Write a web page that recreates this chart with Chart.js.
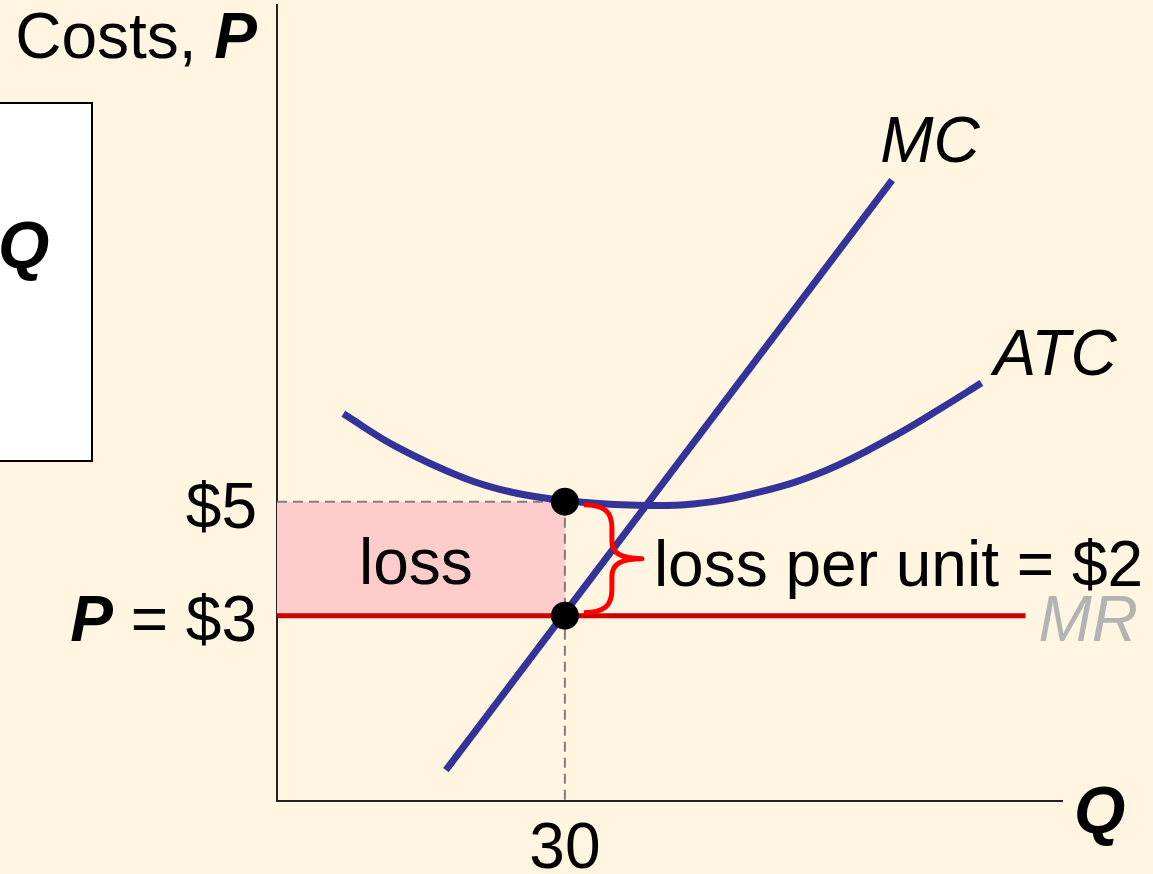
<!DOCTYPE html>
<html>
<head>
<meta charset="utf-8">
<script src="https://cdn.jsdelivr.net/npm/chart.js@4"></script>
<style>
  html, body { margin: 0; padding: 0; background: #FFF5E1; }
  canvas { display: block; }
</style>
</head>
<body>
<canvas id="lossChart" width="1153" height="874"></canvas>
<script>
// Axis ranges (quantity, price in $)
const qRange = [0, 81.8];
const pRange = [-0.25, 13.71];

// Average total cost curve
const atcQ = [6.91, 12.47, 19.41, 24.6, 30, 36.77, 43.37, 50.31, 57.26, 64.2, 69.4, 73.4];
const atcP = [6.54, 5.96, 5.42, 5.16, 5.02, 4.94, 4.96, 5.17, 5.55, 6.14, 6.66, 7.08];

// Marginal cost line
const mcQ = [17.6, 64.1];
const mcP = [0.29, 10.64];

// Marginal revenue (= price) line
const mrQ = [0, 78.0];
const mrP = [3, 3];

// Firm's chosen output, price and ATC at that output
const outputQ = 30;
const priceP = 3;
const atcAtOutput = 5;

// Tick labels
const qTickLabel = '30';
const atcTickLabel = '$5';
const priceTickLabel = '$3';
const lossPerUnit = '$2';

const toPoints = (xs, ys) => xs.map((x, i) => ({ x: x, y: ys[i] }));

const fontFace = '"Liberation Sans", Arial, Helvetica, sans-serif';
const font = (size, style, weight) => `${style || 'normal'} ${weight || 'normal'} ${size}px ${fontFace}`;
const SIZE = 64;

// Draws the text, brace and side box on top of the chart
const annotations = {
  id: 'annotations',
  afterDatasetsDraw(chart) {
    const { ctx, scales: { x, y } } = chart;
    const px = v => x.getPixelForValue(v);
    const py = v => y.getPixelForValue(v);

    // curly brace between ATC and P at the chosen output
    const bx = px(outputQ) + 19;
    const top = py(atcAtOutput) + 3;
    const bot = py(priceP) - 3;
    const mid = (top + bot) / 2;
    ctx.save();
    ctx.strokeStyle = '#FF0000';
    ctx.lineWidth = 5;
    ctx.lineJoin = 'round';
    ctx.beginPath();
    ctx.moveTo(bx, top);
    ctx.bezierCurveTo(bx + 20, top, bx + 28, top + 7, bx + 28, top + 23);
    ctx.lineTo(bx + 28, mid - 18);
    ctx.bezierCurveTo(bx + 28, mid - 6, bx + 36, mid, bx + 58, mid);
    ctx.bezierCurveTo(bx + 36, mid, bx + 28, mid + 6, bx + 28, mid + 18);
    ctx.lineTo(bx + 28, bot - 23);
    ctx.bezierCurveTo(bx + 28, bot - 7, bx + 20, bot, bx, bot);
    ctx.stroke();
    ctx.restore();

    ctx.save();
    ctx.fillStyle = '#000';
    ctx.textBaseline = 'alphabetic';
    const left = chart.chartArea.left;
    const rightEdge = left - 20;

    // y axis title: "Costs, P"
    ctx.font = font(SIZE, 'italic', 'bold');
    const wP = ctx.measureText('P').width;
    ctx.textAlign = 'right';
    ctx.fillText('P', rightEdge, 58);
    ctx.font = font(SIZE);
    ctx.fillText('Costs, ', rightEdge - wP, 58);

    // price ticks
    ctx.font = font(SIZE);
    ctx.fillText(atcTickLabel, rightEdge, py(atcAtOutput) + 26);
    const priceText = ' = ' + priceTickLabel;
    const wPrice = ctx.measureText(priceText).width;
    ctx.fillText(priceText, rightEdge, py(priceP) + 25);
    ctx.font = font(SIZE, 'italic', 'bold');
    ctx.fillText('P', rightEdge - wPrice, py(priceP) + 25);

    // quantity tick
    ctx.font = font(SIZE);
    ctx.textAlign = 'center';
    ctx.fillText(qTickLabel, px(outputQ), chart.chartArea.bottom + 67);

    // loss label inside the rectangle
    ctx.fillText('loss', (px(0) + px(outputQ)) / 2 - 5, py(priceP) - 32);

    // loss per unit label
    ctx.textAlign = 'left';
    ctx.fillText('loss per unit = ' + lossPerUnit, px(outputQ) + 89, py(priceP) - 30);

    // curve labels
    ctx.font = font(SIZE, 'italic');
    ctx.fillText('MC', px(mcQ[1]) - 12, py(mcP[1]) - 18);
    ctx.fillText('ATC', px(atcQ[atcQ.length - 1]) + 12, py(atcP[atcP.length - 1]) - 8);
    ctx.fillStyle = '#B3B3B3';
    ctx.fillText('MR', px(mrQ[1]) + 13, py(mrP[1]) + 25);

    // x axis title
    ctx.fillStyle = '#000';
    ctx.font = font(66, 'italic', 'bold');
    ctx.fillText('Q', chart.chartArea.right + 12, chart.chartArea.bottom + 32);

    // partly visible box at the left edge
    ctx.fillStyle = '#FFFFFF';
    ctx.fillRect(-2, 103, 94, 358);
    ctx.strokeStyle = '#000';
    ctx.lineWidth = 2;
    ctx.strokeRect(-2, 103, 94, 358);
    ctx.fillStyle = '#000';
    ctx.font = font(66, 'italic', 'bold');
    ctx.fillText('Q', -2, 268);
    ctx.restore();
  }
};

const navy = '#333399';

new Chart(document.getElementById('lossChart'), {
  type: 'scatter',
  data: {
    datasets: [
      {
        // loss rectangle between ATC and P
        data: toPoints([0, outputQ], [atcAtOutput, atcAtOutput]),
        showLine: true,
        borderWidth: 0,
        pointRadius: 0,
        backgroundColor: '#FFCCCC',
        fill: { value: priceP },
        order: 10
      },
      {
        data: toPoints([0, outputQ], [atcAtOutput, atcAtOutput]),
        showLine: true,
        borderColor: '#7F7F7F',
        borderWidth: 2,
        borderDash: [10, 6],
        pointRadius: 0,
        order: 9
      },
      {
        data: toPoints([outputQ, outputQ], [atcAtOutput, pRange[0]]),
        showLine: true,
        borderColor: '#7F7F7F',
        borderWidth: 2,
        borderDash: [10, 6],
        pointRadius: 0,
        order: 8
      },
      {
        label: 'MR',
        data: toPoints(mrQ, mrP),
        showLine: true,
        borderColor: '#CC0000',
        borderWidth: 5,
        pointRadius: 0,
        order: 7
      },
      {
        label: 'ATC',
        data: toPoints(atcQ, atcP),
        showLine: true,
        tension: 0.4,
        borderColor: navy,
        borderWidth: 7,
        pointRadius: 0,
        order: 6
      },
      {
        label: 'MC',
        data: toPoints(mcQ, mcP),
        showLine: true,
        borderColor: navy,
        borderWidth: 7,
        pointRadius: 0,
        order: 5
      },
      {
        data: toPoints([outputQ, outputQ], [atcAtOutput, priceP]),
        showLine: false,
        pointRadius: 14,
        pointBackgroundColor: '#000',
        pointBorderWidth: 0,
        order: 1
      }
    ]
  },
  options: {
    responsive: false,
    devicePixelRatio: 1,
    animation: false,
    events: [],
    layout: { autoPadding: false, padding: { left: 277, top: 5, right: 91, bottom: 73 } },
    plugins: { legend: { display: false }, tooltip: { enabled: false } },
    scales: {
      x: {
        type: 'linear',
        min: qRange[0],
        max: qRange[1],
        ticks: { display: false },
        grid: { display: false, drawTicks: false },
        border: { display: true, color: '#222', width: 2 }
      },
      y: {
        type: 'linear',
        min: pRange[0],
        max: pRange[1],
        ticks: { display: false },
        grid: { display: false, drawTicks: false },
        border: { display: true, color: '#222', width: 2 }
      }
    }
  },
  plugins: [annotations]
});
</script>
</body>
</html>
